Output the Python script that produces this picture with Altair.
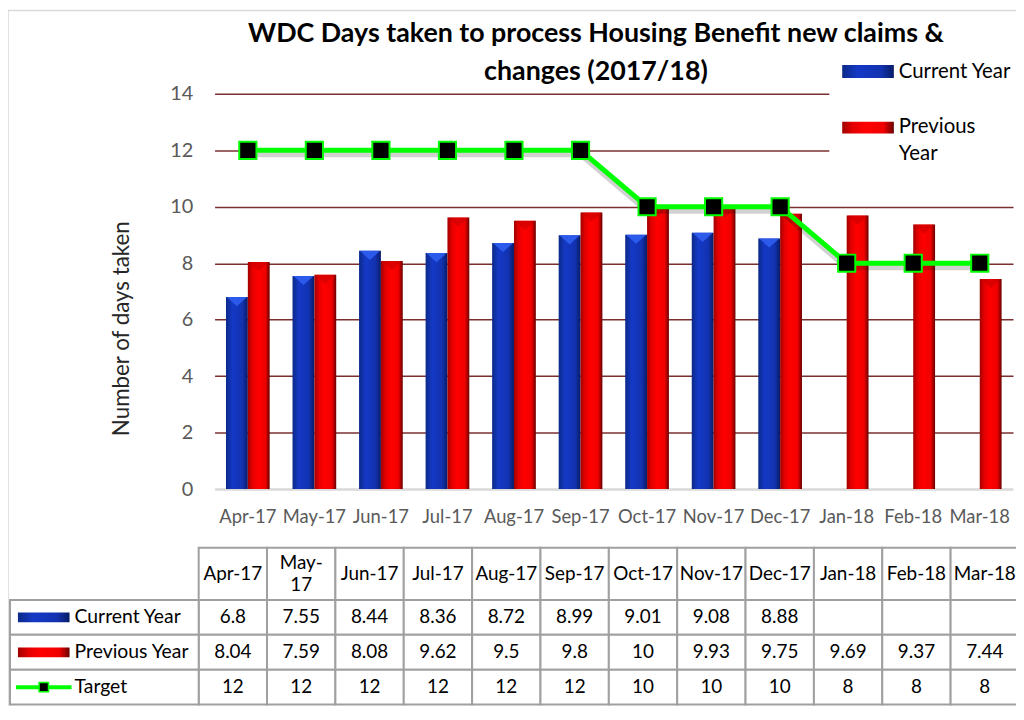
import altair as alt
import pandas as pd

# ---------------- data ----------------
months = ["Apr-17", "May-17", "Jun-17", "Jul-17", "Aug-17", "Sep-17",
          "Oct-17", "Nov-17", "Dec-17", "Jan-18", "Feb-18", "Mar-18"]
header_labels = ["Apr-17", "May-\n17", "Jun-17", "Jul-17", "Aug-17", "Sep-17",
                 "Oct-17", "Nov-17", "Dec-17", "Jan-18", "Feb-18", "Mar-18"]
current_year = [6.8, 7.55, 8.44, 8.36, 8.72, 8.99, 9.01, 9.08, 8.88, None, None, None]
previous_year = [8.04, 7.59, 8.08, 9.62, 9.5, 9.8, 10, 9.93, 9.75, 9.69, 9.37, 7.44]
target = [12, 12, 12, 12, 12, 12, 10, 10, 10, 8, 8, 8]
series_names = ["Current Year", "Previous Year", "Target"]
title_lines = ["WDC Days taken to process Housing Benefit new claims &", "changes  (2017/18)"]
y_title = "Number of days taken"
y_ticks = [0, 2, 4, 6, 8, 10, 12, 14]

# ---------------- styles ----------------
FONT = "Lato"
GRID = "#7b3030"
GREEN = "#00ff00"
TABLE_LINE = "#a0a0a0"
TRI = "M-1,0L1,0L0,0.9Z"


def grad(stops):
    return alt.Gradient(gradient="linear", x1=0, x2=1, y1=0, y2=0,
                        stops=[alt.GradientStop(offset=o, color=c) for o, c in stops])


blue_grad = grad([(0, "#0b2a88"), (0.3, "#1539c6"), (0.75, "#1232b0"), (1, "#081c66")])
red_grad = grad([(0, "#a00000"), (0.2, "#e20000"), (0.45, "#ff0000"), (0.8, "#f00000"), (1, "#6a0000")])

# ---------------- main plot ----------------
rows = []
for m, c, p in zip(months, current_year, previous_year):
    if c is not None:
        rows.append({"month": m, "series": series_names[0], "value": c})
    rows.append({"month": m, "series": series_names[1], "value": p})
bars_df = pd.DataFrame(rows)
target_df = pd.DataFrame({"month": months, "value": target})

x_enc = alt.X("month:N", sort=months,
              scale=alt.Scale(domain=months, paddingInner=23 / 67, paddingOuter=23 / 134),
              axis=alt.Axis(title=None, labelAngle=0, labelFont=FONT, labelFontSize=18.5,
                            labelColor="#595959", labelPadding=19, ticks=False, tickSize=0,
                            domain=False, grid=False))
y_enc = alt.Y("value:Q", scale=alt.Scale(domain=[0, 14], nice=False, zero=True),
              axis=alt.Axis(values=y_ticks, title=y_title, titleFont=FONT, titleFontSize=22.5,
                            titleFontWeight="normal", titleColor="#262626", titlePadding=36,
                            titleY=236,
                            labelFont=FONT, labelFontSize=20, labelColor="#595959",
                            labelPadding=22, ticks=False, tickSize=0, domain=False,
                            grid=True,
                            gridColor={"condition": {"test": "datum.value === 0", "value": "#d9d9d9"},
                                       "value": GRID},
                            gridWidth={"condition": {"test": "datum.value === 0", "value": 2.5},
                                       "value": 1.5}))
xo = alt.XOffset("series:N", scale=alt.Scale(domain=series_names[:2], paddingInner=0, paddingOuter=0))

bars_base = alt.Chart(bars_df).encode(x=x_enc, y=y_enc, xOffset=xo)
cur = bars_base.transform_filter(alt.datum.series == series_names[0])
prev = bars_base.transform_filter(alt.datum.series == series_names[1])
blue_bars = cur.mark_bar(fill=blue_grad)
red_bars = prev.mark_bar(fill=red_grad)
blue_tops = cur.mark_point(shape=TRI, size=420, filled=True, color="#2f5ef0", opacity=0.9,
                           strokeWidth=0)
red_tops = prev.mark_point(shape=TRI, size=420, filled=True, color="#c80000", opacity=0.6,
                           strokeWidth=0)

line_base = alt.Chart(target_df).encode(x=x_enc, y=y_enc)
shadow = line_base.mark_line(color="#000000", opacity=0.18, strokeWidth=6, yOffset=4)
line = line_base.mark_line(color=GREEN, strokeWidth=5)
pts = line_base.mark_point(shape="square", filled=True, fill="black", stroke=GREEN,
                           strokeWidth=2, size=300, opacity=1)

main = alt.layer(blue_bars, red_bars, blue_tops, red_tops, shadow, line, pts)

# ---------------- data table ----------------
LABEL_LEFT = -2.76
ROW_PX = 35.1
LINE_H = 22
tx = alt.Scale(domain=[0, 12], range=[-16, 810], zero=False, nice=False)
ty = alt.Scale(domain=[-1.5, 3], range=[457, 615], zero=False, nice=False)

cells = []
for k in range(12):
    cells.append({"x0": k, "x1": k + 1, "y0": -1.5, "y1": 0})
    for r in range(3):
        cells.append({"x0": k, "x1": k + 1, "y0": r, "y1": r + 1})
for r in range(3):
    cells.append({"x0": LABEL_LEFT, "x1": 0, "y0": r, "y1": r + 1})
cells_df = pd.DataFrame(cells)

texts = []
for k, h in enumerate(header_labels):
    n_lines = h.count("\n") + 1
    texts.append({"x0": k + 0.5, "y0": -0.75 - (n_lines - 1) * 0.5 * LINE_H / ROW_PX, "t": h})
for r, vals in enumerate([current_year, previous_year, target]):
    for k, v in enumerate(vals):
        if v is not None:
            texts.append({"x0": k + 0.5, "y0": r + 0.5, "t": f"{v:g}"})
text_df = pd.DataFrame(texts)
label_df = pd.DataFrame({"x0": [-1.816] * 3, "y0": [0.5, 1.5, 2.5], "t": series_names})

X0 = alt.X("x0:Q", scale=tx, axis=None)
Y0 = alt.Y("y0:Q", scale=ty, axis=None)

cell_rects = alt.Chart(cells_df).mark_rect(fill="white", stroke=TABLE_LINE, strokeWidth=2).encode(
    x=X0, x2="x1:Q", y=Y0, y2="y1:Q")
cell_text = alt.Chart(text_df).mark_text(font=FONT, fontSize=19, color="black", lineBreak="\n",
                                         lineHeight=LINE_H, baseline="middle").encode(
    x=X0, y=Y0, text="t:N")
label_text = alt.Chart(label_df).mark_text(font=FONT, fontSize=19.5, color="black", align="left",
                                           baseline="middle").encode(x=X0, y=Y0, text="t:N")

sw_df = pd.DataFrame({"x0": [-2.644, -2.644], "x1": [-1.889, -1.889],
                      "y0": [0.36, 1.36], "y1": [0.64, 1.64], "series": series_names[:2]})
sw_blue = alt.Chart(sw_df).transform_filter(alt.datum.series == series_names[0]).mark_rect(
    fill=blue_grad).encode(x=X0, x2="x1:Q", y=Y0, y2="y1:Q")
sw_red = alt.Chart(sw_df).transform_filter(alt.datum.series == series_names[1]).mark_rect(
    fill=red_grad).encode(x=X0, x2="x1:Q", y=Y0, y2="y1:Q")
tl_df = pd.DataFrame({"x0": [-2.673], "x1": [-1.86], "y0": [2.5], "xm": [-2.266]})
tl_line = alt.Chart(tl_df).mark_rule(color=GREEN, strokeWidth=4).encode(x=X0, x2="x1:Q", y=Y0)
tl_pt = alt.Chart(tl_df).mark_point(shape="square", filled=True, fill="black", stroke=GREEN,
                                    strokeWidth=1.5, size=90, opacity=1).encode(
    x=alt.X("xm:Q", scale=tx, axis=None), y=Y0)

table = alt.layer(cell_rects, cell_text, label_text, sw_blue, sw_red, tl_line, tl_pt)

# ---------------- top-right legend and title ----------------
one = pd.DataFrame({"a": [0]})
leg_bg = alt.Chart(one).mark_rect(fill="white").encode(
    x=alt.value(619), x2=alt.value(820), y=alt.value(-37), y2=alt.value(76))
leg_blue = alt.Chart(one).mark_rect(fill=blue_grad).encode(
    x=alt.value(632), x2=alt.value(684), y=alt.value(-29), y2=alt.value(-16))
leg_red = alt.Chart(one).mark_rect(fill=red_grad).encode(
    x=alt.value(632), x2=alt.value(684), y=alt.value(28), y2=alt.value(40))
leg_t1 = alt.Chart(one).mark_text(font=FONT, fontSize=20.5, align="left", baseline="middle",
                                  color="black", text=series_names[0]).encode(
    x=alt.value(689), y=alt.value(-22))
leg_t2 = alt.Chart(one).mark_text(font=FONT, fontSize=20.5, align="left", baseline="middle",
                                  color="black", text=["Previous", "Year"], lineHeight=28).encode(
    x=alt.value(689), y=alt.value(33))
title = alt.Chart(one).mark_text(font=FONT, fontSize=27, fontWeight="bold", align="center",
                                 baseline="middle", color="black", text=title_lines,
                                 lineHeight=38).encode(x=alt.value(384), y=alt.value(-60))
legend = alt.layer(leg_bg, leg_blue, leg_red, leg_t1, leg_t2, title)

border = alt.Chart(one).mark_rect(fill=None, stroke="#d9d9d9", strokeWidth=1.5).encode(
    x=alt.value(-208), x2=alt.value(900), y=alt.value(-84), y2=alt.value(640))

chart = alt.layer(border, main, table, legend).resolve_scale(
    x="independent", y="independent"
).properties(
    width=804, height=398,
    autosize=alt.AutoSizeParams(type="none"),
    padding={"left": 208, "top": 84, "right": 3, "bottom": 216},
).configure_view(stroke=None)

chart.save("out.html", embed_options={"renderer": "svg", "actions": False})
